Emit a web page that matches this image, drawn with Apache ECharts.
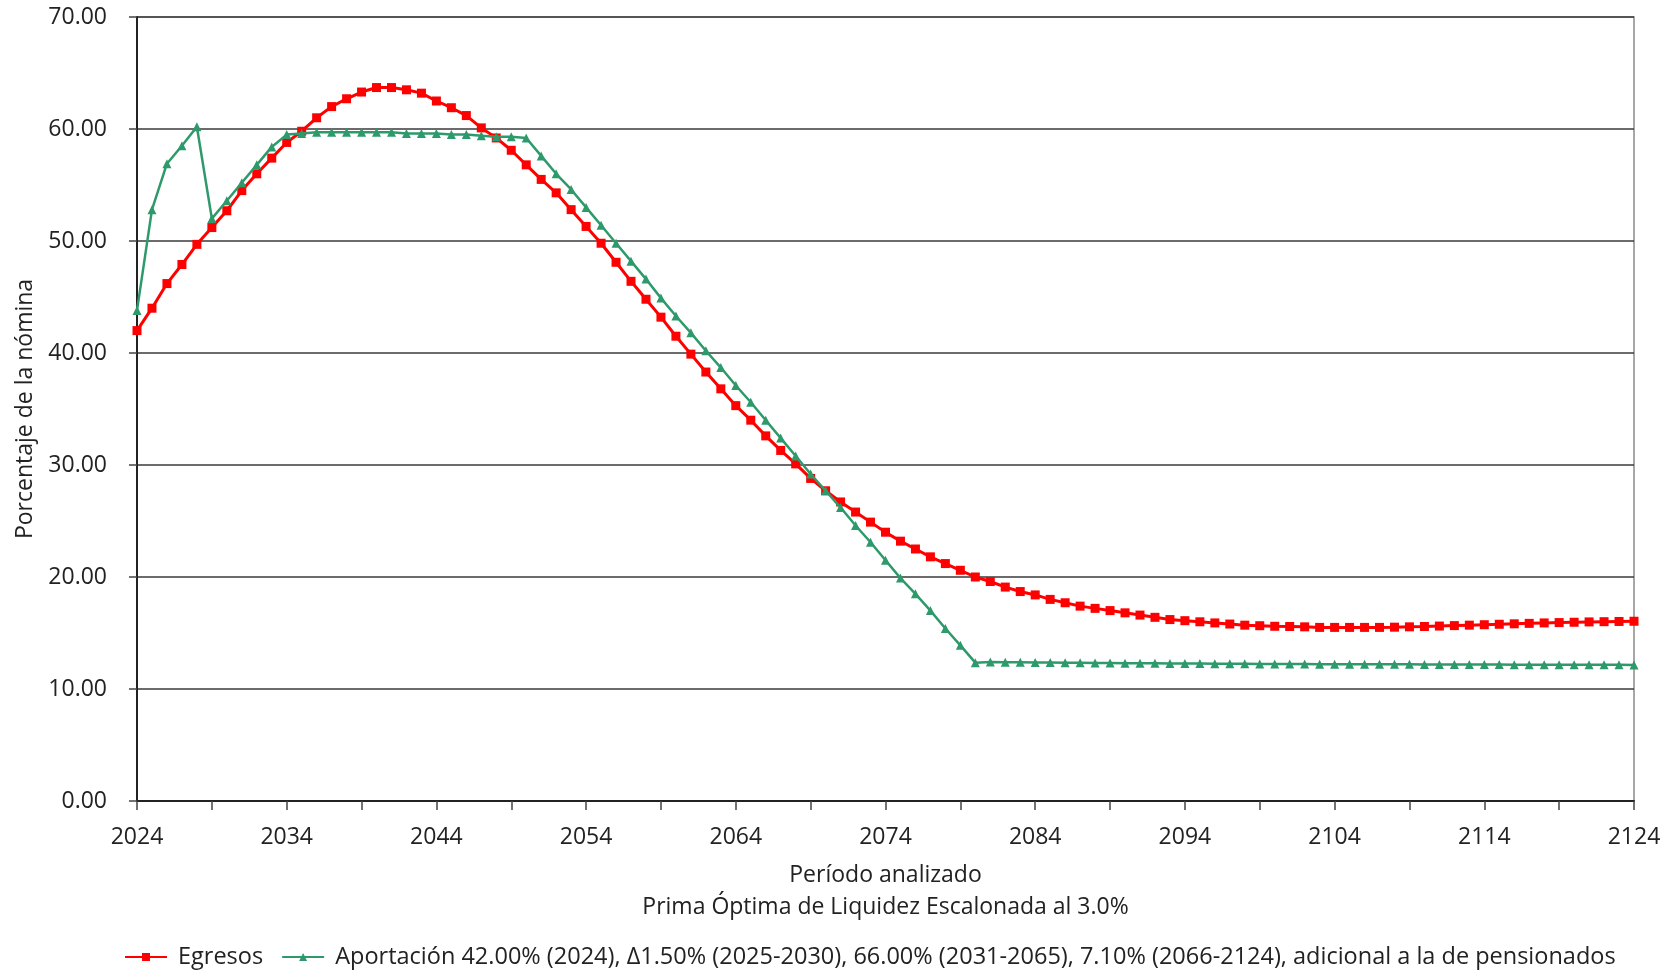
<!DOCTYPE html>
<html>
<head>
<meta charset="utf-8">
<title>Egresos vs Aportación</title>
<script src="https://cdn.jsdelivr.net/npm/echarts@6/dist/echarts.min.js"></script>
<style>
  html, body { margin: 0; padding: 0; background: #fff; }
  #chart { width: 1671px; height: 972px; }
</style>
</head>
<body>
<div id="chart"></div>
<script>
// años 2024..2124
var years = [];
for (var y = 2024; y <= 2124; y++) years.push(String(y));

// Egresos (% de la nómina)
var egresos = [
  42.0, 44.0, 46.2, 47.9, 49.7, 51.2, 52.7, 54.5, 56.0, 57.4,
  58.8, 59.8, 61.0, 62.0, 62.7, 63.3, 63.7, 63.7, 63.5, 63.2,
  62.5, 61.9, 61.2, 60.1, 59.2, 58.1, 56.8, 55.5, 54.3, 52.8,
  51.3, 49.8, 48.1, 46.4, 44.8, 43.2, 41.5, 39.9, 38.3, 36.8,
  35.3, 34.0, 32.6, 31.3, 30.1, 28.8, 27.7, 26.7, 25.8, 24.9,
  24.0, 23.2, 22.5, 21.8, 21.2, 20.6, 20.0, 19.6, 19.1, 18.7,
  18.4, 18.0, 17.7, 17.4, 17.2, 17.0, 16.8, 16.6, 16.4, 16.2,
  16.1, 16.0, 15.9, 15.8, 15.7, 15.65, 15.6, 15.58, 15.55, 15.5,
  15.5, 15.5, 15.5, 15.5, 15.52, 15.55, 15.58, 15.62, 15.66, 15.7,
  15.74, 15.78, 15.82, 15.86, 15.9, 15.93, 15.96, 15.99, 16.01, 16.03,
  16.05
];

// Aportación
var aportacion = [
  43.8, 52.8, 56.9, 58.5, 60.2, 52.0, 53.6, 55.2, 56.8, 58.4,
  59.5, 59.6, 59.7, 59.7, 59.7, 59.7, 59.7, 59.7, 59.6, 59.6,
  59.6, 59.5, 59.5, 59.4, 59.3, 59.3, 59.2, 57.6, 56.0, 54.6,
  53.0, 51.4, 49.8, 48.2, 46.6, 44.9, 43.3, 41.8, 40.2, 38.7,
  37.1, 35.6, 34.0, 32.4, 30.8, 29.2, 27.7, 26.2, 24.6, 23.1,
  21.5, 19.9, 18.5, 17.0, 15.4, 13.9, 12.35, 12.40, 12.39, 12.38,
  12.37, 12.36, 12.35, 12.34, 12.33, 12.32, 12.31, 12.30, 12.29, 12.28,
  12.28, 12.27, 12.26, 12.26, 12.25, 12.24, 12.24, 12.23, 12.23, 12.22,
  12.22, 12.21, 12.21, 12.20, 12.20, 12.20, 12.19, 12.19, 12.19, 12.18,
  12.18, 12.18, 12.17, 12.17, 12.17, 12.17, 12.16, 12.16, 12.16, 12.16,
  12.15
];

var yTicks = [0, 10, 20, 30, 40, 50, 60, 70];

var serieA = 'Egresos';
var serieB = 'Aportación 42.00% (2024), Δ1.50% (2025-2030), 66.00% (2031-2065), 7.10% (2066-2124), adicional a la de pensionados';

var fontFam = '"Open Sans", "Noto Sans", sans-serif';
var txtColor = '#222';

var myChart = echarts.init(document.getElementById('chart'));
var option = {
  animation: false,
  textStyle: { fontFamily: fontFam, color: txtColor },
  grid: {
    left: 137, right: 37, top: 17, bottom: 171,
    show: true,
    borderColor: '#8a8a8a',
    borderWidth: 1.5
  },
  legend: {
    top: 940,
    left: 119,
    itemWidth: 42,
    itemHeight: 10,
    itemGap: 18,
    textStyle: { fontSize: 23.5, color: txtColor, fontFamily: fontFam, padding: [0, 0, 0, 6] },
    data: [serieA, serieB]
  },
  xAxis: {
    type: 'category',
    data: years,
    boundaryGap: false,
    name: 'Período analizado\nPrima Óptima de Liquidez Escalonada al 3.0%',
    nameLocation: 'middle',
    nameGap: 58,
    nameTextStyle: { fontSize: 23, lineHeight: 32, color: txtColor, fontFamily: fontFam },
    axisLine: { lineStyle: { color: '#222', width: 2 } },
    axisTick: {
      show: true, length: 9,
      interval: function (i) { return i % 5 === 0; },
      lineStyle: { color: '#444', width: 1.5 }
    },
    axisLabel: {
      interval: function (i) { return i % 10 === 0; },
      fontSize: 23, margin: 25, color: txtColor, fontFamily: fontFam
    },
    splitLine: { show: false }
  },
  yAxis: {
    type: 'value',
    min: yTicks[0],
    max: yTicks[yTicks.length - 1],
    interval: 10,
    name: 'Porcentaje de la nómina',
    nameLocation: 'middle',
    nameGap: 100,
    nameTextStyle: { fontSize: 23, color: txtColor, fontFamily: fontFam },
    axisLine: { show: true, lineStyle: { color: '#222', width: 2 } },
    axisTick: { show: true, length: 8, lineStyle: { color: '#444', width: 1.5 } },
    axisLabel: {
      fontSize: 23, margin: 30, color: txtColor, fontFamily: fontFam,
      formatter: function (v) { return v.toFixed(2); }
    },
    splitLine: { show: true, lineStyle: { color: '#3a3a3a', width: 1.5 } }
  },
  series: [
    {
      name: serieA,
      type: 'line',
      data: egresos,
      symbol: 'rect',
      symbolSize: 9,
      itemStyle: { color: '#ff0000' },
      lineStyle: { color: '#ff0000', width: 3 },
      z: 3
    },
    {
      name: serieB,
      type: 'line',
      data: aportacion,
      symbol: 'triangle',
      symbolSize: 9,
      itemStyle: { color: '#2e9a6c' },
      lineStyle: { color: '#2e9a6c', width: 2.5 },
      z: 4
    }
  ]
};
myChart.setOption(option);
</script>
</body>
</html>
